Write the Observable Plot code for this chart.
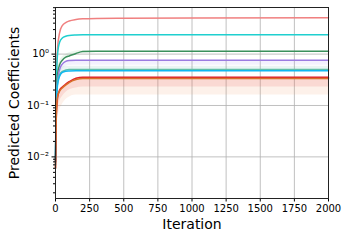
<!DOCTYPE html>
<html><head><meta charset="utf-8">
<script src="https://cdn.jsdelivr.net/npm/d3@7"></script>
<script src="https://cdn.jsdelivr.net/npm/@observablehq/plot@0.6"></script>
<style>body{margin:0;background:#fff;font-family:"DejaVu Sans",sans-serif}</style>
</head><body><div id="chart"></div>
<script>
const iterations = [0, 5, 15, 30, 50, 75, 100, 150, 200, 300, 500, 1000, 2000];
const seriesNames = ["pink","cyan","green","purple","teal","blue","red","orange"];
const seriesColors = ["#f08080","#1fcfcf","#3a8f5c","#9b7be0","#5fbfa8","#10b8f0","#e0202a","#d8702a"];
const pinkVals   = [0.008,0.3,1.3,2.6,3.6,4.1,4.4,4.7,4.85,4.95,5.0,5.05,5.07];
const cyanVals   = [0.007,0.2,1.0,1.7,2.05,2.22,2.3,2.35,2.37,2.37,2.37,2.37,2.37];
const greenVals  = [0.008,0.12,0.4,0.62,0.76,0.87,0.92,1.03,1.12,1.14,1.14,1.14,1.14];
const purpleVals = [0.008,0.1,0.3,0.5,0.64,0.72,0.75,0.76,0.76,0.76,0.76,0.76,0.76];
const tealVals   = [0.009,0.1,0.28,0.4,0.46,0.49,0.5,0.5,0.5,0.5,0.5,0.5,0.5];
const blueVals   = [0.0095,0.09,0.25,0.37,0.44,0.465,0.47,0.474,0.474,0.474,0.474,0.474,0.474];
const redVals    = [0.006,0.05,0.14,0.2,0.23,0.26,0.29,0.34,0.353,0.353,0.353,0.353,0.353];
const orangeVals = [0.006,0.06,0.15,0.19,0.22,0.25,0.28,0.32,0.337,0.337,0.337,0.337,0.337];
// shaded bands (lower, upper)
const purpleBandLo = [0.007,0.07,0.22,0.38,0.5,0.58,0.6,0.61,0.61,0.61,0.61,0.61,0.61];
const tealBandHi   = [0.011,0.13,0.34,0.48,0.55,0.58,0.58,0.58,0.58,0.58,0.58,0.58,0.58];
const greenBandHi  = [0.009,0.15,0.48,0.72,0.88,0.98,1.06,1.15,1.17,1.16,1.15,1.15,1.15];
const redBandLo    = [0.005,0.03,0.08,0.12,0.15,0.18,0.2,0.22,0.229,0.229,0.229,0.229,0.229];
const orangeBandLo = [0.004,0.02,0.05,0.08,0.105,0.13,0.145,0.16,0.16,0.16,0.16,0.16,0.16];

const xTicks = [0,250,500,750,1000,1250,1500,1750,2000];
const yTicks = [0.01,0.1,1];
const yTickLabels = ["10\u207B\u00B2","10\u207B\u00B9","10\u2070"];

const allVals = [pinkVals,cyanVals,greenVals,purpleVals,tealVals,blueVals,redVals,orangeVals];
const band = (lo, hi) => iterations.map((it,i)=>({it, lo: lo[i], hi: hi[i]}));
const seriesLines = seriesNames.map((s,k)=>Plot.line(iterations.map((it,i)=>({it, v: allVals[k][i]})),
  {x: "it", y: "v", stroke: seriesColors[k], strokeWidth: 1.5, curve: "monotone-x"}));
const minor = [];
for (const e of [-3,-2,-1,0]) for (let m=2;m<=9;m++){const v=m*Math.pow(10,e); if(v>0.00155&&v<8.07) minor.push(v);}

const chart = Plot.plot({
  width: 349, height: 240,
  marginLeft: 55, marginRight: 21, marginTop: 7, marginBottom: 42,
  style: {fontFamily: "DejaVu Sans", fontSize: "10px", color: "#000", background: "#fff"},
  x: {domain: [0,2000]},
  y: {type: "log", domain: [0.00155, 8.07]},
  marks: [
    Plot.gridX(xTicks, {stroke: "#b0b0b0", strokeOpacity: 1, strokeWidth: 0.8}),
    Plot.gridY(yTicks, {stroke: "#b0b0b0", strokeOpacity: 1, strokeWidth: 0.8}),
    Plot.areaY(band(orangeBandLo, orangeVals), {x: "it", y1: "lo", y2: "hi", fill: "#f0a070", fillOpacity: 0.15, curve: "monotone-x"}),
    Plot.areaY(band(redBandLo, redVals), {x: "it", y1: "lo", y2: "hi", fill: "#e85050", fillOpacity: 0.15, curve: "monotone-x"}),
    Plot.areaY(band(tealVals, tealBandHi), {x: "it", y1: "lo", y2: "hi", fill: "#70b8b0", fillOpacity: 0.15, curve: "monotone-x"}),
    Plot.areaY(band(purpleBandLo, purpleVals), {x: "it", y1: "lo", y2: "hi", fill: "#b0a0f0", fillOpacity: 0.15, curve: "monotone-x"}),
    Plot.areaY(band(greenVals, greenBandHi), {x: "it", y1: "lo", y2: "hi", fill: "#80c090", fillOpacity: 0.15, curve: "monotone-x"}),
    ...seriesLines,
    Plot.axisX({ticks: xTicks, tickSize: 3.5, tickPadding: 3, fontSize: 10, label: null, tickFormat: d => String(d)}),
    Plot.axisY({ticks: yTicks, tickSize: 3.5, tickPadding: 3, fontSize: 10, label: null, tickFormat: d => yTickLabels[yTicks.indexOf(d)]}),
    Plot.axisY({ticks: minor, tickSize: 2, tickFormat: () => "", label: null}),
    Plot.frame({stroke: "#222", strokeWidth: 1}),
    Plot.text(["Iteration"], {frameAnchor: "bottom", lineAnchor: "middle", dy: 26, fontSize: 14, fill: "#000"}),
    Plot.text(["Predicted Coefficients"], {frameAnchor: "left", textAnchor: "middle", lineAnchor: "middle", dx: -41, rotate: -90, fontSize: 14, fill: "#000"})
  ]
});
document.getElementById("chart").appendChild(chart);
</script></body></html>
